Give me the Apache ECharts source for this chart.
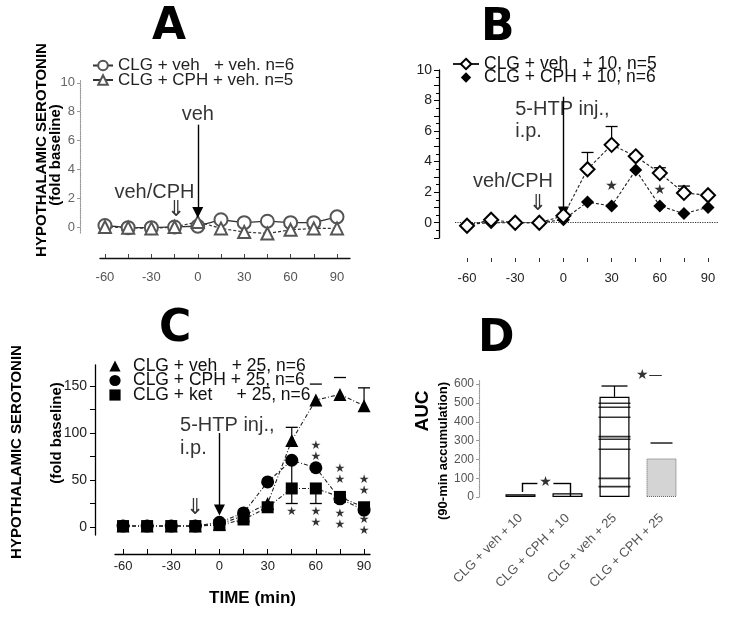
<!DOCTYPE html>
<html><head><meta charset="utf-8">
<script src="https://cdn.jsdelivr.net/npm/echarts@6/dist/echarts.min.js"></script>
<style>html,body{margin:0;padding:0;background:#fff}#c{width:729px;height:621px}</style>
</head><body><div id="c"></div>
<script>
// ---------- data ----------
const times = [-60,-45,-30,-15,0,15,30,45,60,75,90];
const tickTimes = [-60,-45,-30,-15,0,15,30,45,60,75,90];
const labelTimes = [-60,-30,0,30,60,90];

// Panel A
const aVehVeh = [0.1,-0.05,-0.05,0,0.05,0.5,0.3,0.4,0.3,0.3,0.7];
const aCphVeh = [0,-0.05,-0.1,0,0.35,-0.1,-0.35,-0.45,-0.2,-0.1,-0.1];
const aYLabels = [0,2,4,6,8,10];

// Panel B
const bVeh10 = [-0.2,0.2,0,0,0.45,3.5,5.1,4.35,3.25,1.95,1.8];
const bCph10 = [-0.1,0,0,0,0.2,1.35,1.1,3.45,1.1,0.6,1.0];
const bVeh10ErrTop = [null,null,null,null,null,4.6,6.3,null,3.6,2.4,null];

// Panel C
const cVeh25 = [1,1,1,1,3,12,25,92,135,141,129];
const cCph25 = [1,1,1,1,5,15,48,71,63,30,18];
const cKet25 = [1,1,1,1,2,8,21,41,41,32,21];
const cVeh25ErrTop = [null,null,null,null,null,null,null,106,null,null,148];
const cVeh25CapTop = [null,null,null,null,null,null,null,null,152,159,null];
const cCph25ErrLow = [null,null,null,null,null,null,null,41,null,null,null];
const cKet25ErrLow = [null,null,null,null,null,null,null,25,25,null,null];
const cYTicks = [0,25,50,75,100,125,150];
const cYLabels = [0,50,100,150];

// Panel D
const aucGroups = ['CLG + veh + 10','CLG + CPH + 10','CLG + veh + 25','CLG + CPH + 25'];
const aucPos = [1,2,3,4];
const aucMeans = [15,20,533,205];
const aucErrTop = [null,null,590,287];
const aucVeh25Individual = [498,477,424,321,307,254,99,55];
const dYLabels = [0,100,200,300,400,500,600];

// names
const nA1 = 'CLG + veh   + veh. n=6', nA2 = 'CLG + CPH + veh. n=5';
const nB1 = 'CLG + veh   + 10, n=5', nB2 = 'CLG + CPH + 10, n=6';
const nC1 = 'CLG + veh   + 25, n=6', nC2 = 'CLG + CPH + 25, n=6', nC3 = 'CLG + ket     + 25, n=6';

// ---------- helpers ----------
const FONT = '"Liberation Sans", Arial, sans-serif';
const pts = (xs, ys) => xs.map((x,i)=>[x, ys[i]]);
const errPts = (xs, mean, ext) => xs.map((x,i)=> ext[i]==null ? null : [x, mean[i], ext[i]]).filter(Boolean);

function errSeries(xi, data, capHalf, stem){
  return {type:'custom', xAxisIndex:xi, yAxisIndex:xi, data, clip:false, silent:true, z:3,
    renderItem(params, api){
      const x=api.value(0), a=api.value(1), b=api.value(2);
      const p0=api.coord([x,a]), p1=api.coord([x,b]);
      const ch=[];
      if(stem) ch.push({type:'line', shape:{x1:p0[0],y1:p0[1],x2:p1[0],y2:p1[1]}, style:{stroke:'#000', lineWidth:1.2}});
      ch.push({type:'line', shape:{x1:p1[0]-capHalf,y1:p1[1],x2:p1[0]+capHalf,y2:p1[1]}, style:{stroke:'#000', lineWidth:1.3}});
      return {type:'group', children:ch};
    }};
}
function txt(x, y, text, extra){ return {value:[x,y], label:Object.assign({formatter:text}, extra||{})}; }
function annSeries(xi, items, lines, arrows){
  return {type:'scatter', xAxisIndex:xi, yAxisIndex:xi, symbolSize:1, silent:true, clip:false, z:6,
    itemStyle:{color:'transparent'},
    label:{show:true, position:'inside', color:'#000', fontFamily:FONT, fontSize:20},
    data:items,
    markLine:{silent:true, animation:false, symbol:arrows?['none','triangle']:['none','none'], symbolSize:11,
      label:{show:false}, lineStyle:{color:'#000', type:'solid', width:1.4},
      emphasis:{disabled:true},
      data:lines}
  };
}
function baseLine(xi, x0, x1){
  return {type:'line', xAxisIndex:xi, yAxisIndex:xi, data:[], clip:false, silent:true,
    markLine:{silent:true, animation:false, symbol:['none','none'], label:{show:false},
      lineStyle:{color:'#333', type:'dotted', width:1.2}, emphasis:{disabled:true},
      data:[[{coord:[x0,0]},{coord:[x1,0]}]]}};
}
const seg = (x0,y0,x1,y1)=>[{coord:[x0,y0]},{coord:[x1,y1]}];
const star = '★', star2 = '★\n★';
const starLbl = {fontSize:12, lineHeight:11, fontFamily:'"DejaVu Sans", sans-serif'};
const starB = {fontSize:14, fontFamily:'"DejaVu Sans", sans-serif'};
const dblArrow = {fontSize:22, fontFamily:'"DejaVu Sans", sans-serif'};

// ---------- option ----------
const titleStyle = {fontSize:44, fontWeight:'bold', fontFamily:'"DejaVu Sans", sans-serif', color:'#000'};
const option = {
  animation:false,
  backgroundColor:'#fff',
  textStyle:{fontFamily:FONT},
  title:[
    {text:'A', left:152, top:6, padding:0, textStyle:titleStyle},
    {text:'B', left:481, top:7, padding:0, textStyle:titleStyle},
    {text:'C', left:159, top:308, padding:0, textStyle:titleStyle},
    {text:'D', left:478, top:318, padding:0, textStyle:titleStyle}
  ],
  legend:[
    {left:92, top:57, padding:0, orient:'vertical', itemWidth:20, itemHeight:12, itemGap:-2.5,
     textStyle:{fontSize:17, color:'#222', fontFamily:FONT},
     data:[{name:nA1, lineStyle:{type:'solid'}},{name:nA2, lineStyle:{type:'solid'}}]},
    {left:452, top:55, padding:0, orient:'vertical', itemWidth:26, itemHeight:13, itemGap:-4.5,
     textStyle:{fontSize:17.5, color:'#111', fontFamily:FONT},
     data:[{name:nB1, lineStyle:{type:'solid'}},{name:nB2, lineStyle:{opacity:0}}]},
    {left:101, top:357, padding:0, orient:'vertical', itemWidth:26, itemHeight:14, itemGap:-3.5,
     textStyle:{fontSize:17.5, color:'#111', fontFamily:FONT},
     data:[{name:nC1, lineStyle:{opacity:0}},{name:nC2, lineStyle:{opacity:0}},{name:nC3, lineStyle:{opacity:0}}]}
  ],
  grid:[
    {left:100, right:379, top:80, bottom:388},
    {left:455, right:11, top:70, bottom:383},
    {left:115, right:359, top:365, bottom:86},
    {left:497, right:44, top:380, bottom:124}
  ],
  xAxis:[
    {type:'value', gridIndex:0, min:-63.2, max:98.4, offset:25,
     axisLine:{onZero:false, lineStyle:{color:'#111', width:1.3}},
     axisTick:{inside:true, length:4, customValues:tickTimes, lineStyle:{color:'#444'}},
     axisLabel:{customValues:labelTimes, color:'#555', fontSize:13, margin:13},
     splitLine:{show:false}},
    {type:'value', gridIndex:1, min:-67.47, max:96.2, offset:20,
     axisLine:{show:false, onZero:false},
     axisTick:{length:4, customValues:tickTimes, lineStyle:{color:'#333'}},
     axisLabel:{customValues:labelTimes, color:'#222', fontSize:13, margin:14},
     splitLine:{show:false}},
    {type:'value', gridIndex:2, min:-65, max:93.7, offset:19,
     axisLine:{onZero:false, lineStyle:{color:'#000', width:1.3}},
     axisTick:{inside:true, length:5, customValues:tickTimes, lineStyle:{color:'#000'}},
     axisLabel:{customValues:labelTimes, color:'#222', fontSize:13, margin:6},
     name:'TIME (min)', nameLocation:'middle', nameGap:36,
     nameTextStyle:{fontSize:17, fontWeight:'bold', color:'#000', fontFamily:FONT, padding:[0,0,0,20]},
     splitLine:{show:false}},
    {type:'value', gridIndex:3, min:0.5, max:4.5,
     axisLine:{show:false, onZero:false}, axisTick:{show:false},
     axisLabel:{customValues:aucPos, formatter:v=>aucGroups[Math.round(v)-1], rotate:45,
       color:'#555', fontSize:13, margin:19},
     splitLine:{show:false}}
  ],
  yAxis:[
    {type:'value', gridIndex:0, min:-0.42, max:10.2, offset:20,
     axisLine:{show:true, onZero:false, lineStyle:{type:'dotted', color:'#999', width:1.2}},
     axisTick:{show:true, customValues:aYLabels, length:3, lineStyle:{color:'#999'}},
     axisLabel:{customValues:aYLabels, color:'#666', fontSize:13, margin:5},
     splitLine:{show:false}},
    {type:'value', gridIndex:1, min:-1, max:10, interval:1, offset:16,
     axisLine:{show:true, onZero:false, lineStyle:{color:'#000', width:1.3}},
     axisTick:{show:true, length:5, lineStyle:{color:'#000'}},
     minorTick:{show:true, splitNumber:2, length:3, lineStyle:{color:'#000'}},
     axisLabel:{formatter:v=>(v>=0 && v%2===0)?String(v):'', color:'#222', fontSize:14, margin:7},
     splitLine:{show:false}},
    {type:'value', gridIndex:2, min:-8.5, max:172.3, offset:20,
     axisLine:{show:true, onZero:false, lineStyle:{color:'#000', width:1.3}},
     axisTick:{show:true, customValues:cYTicks, length:5, lineStyle:{color:'#000'}},
     axisLabel:{customValues:cYLabels, color:'#222', fontSize:14, margin:8},
     splitLine:{show:false}},
    {type:'value', gridIndex:3, min:0, max:622, offset:18,
     axisLine:{show:true, onZero:false, lineStyle:{type:'dotted', color:'#999', width:1.2}},
     axisTick:{show:true, customValues:dYLabels, length:3, lineStyle:{color:'#999'}},
     axisLabel:{customValues:dYLabels, color:'#555', fontSize:12, margin:5},
     splitLine:{show:false}}
  ],
  graphic:[
    {type:'text', x:42, y:150, rotation:Math.PI/2, style:{text:'HYPOTHALAMIC SEROTONIN', font:'bold 15px "Liberation Sans"', fill:'#000', align:'center', verticalAlign:'middle'}},
    {type:'text', x:56, y:155, rotation:Math.PI/2, style:{text:'(fold baseline)', font:'bold 15px "Liberation Sans"', fill:'#000', align:'center', verticalAlign:'middle'}},
    {type:'text', x:17, y:452, rotation:Math.PI/2, style:{text:'HYPOTHALAMIC SEROTONIN', font:'bold 15px "Liberation Sans"', fill:'#000', align:'center', verticalAlign:'middle'}},
    {type:'text', x:57, y:433, rotation:Math.PI/2, style:{text:'(fold baseline)', font:'bold 15px "Liberation Sans"', fill:'#000', align:'center', verticalAlign:'middle'}},
    {type:'text', x:423, y:411, rotation:Math.PI/2, style:{text:'AUC', font:'bold 19px "Liberation Sans"', fill:'#000', align:'center', verticalAlign:'middle'}},
    {type:'text', x:443, y:451, rotation:Math.PI/2, style:{text:'(90-min accumulation)', font:'bold 13px "Liberation Sans"', fill:'#000', align:'center', verticalAlign:'middle'}}
  ],
  series:[
    // ---- A ----
    baseLine(0, -77, 94.8),
    {name:nA1, type:'line', xAxisIndex:0, yAxisIndex:0, data:pts(times,aVehVeh), clip:false,
     symbol:'emptyCircle', symbolSize:13, lineStyle:{color:'#333', width:1.3},
     itemStyle:{color:'#555', borderWidth:1.1}, z:4},
    {name:nA2, type:'line', xAxisIndex:0, yAxisIndex:0, data:pts(times,aCphVeh), clip:false,
     symbol:'emptyTriangle', symbolSize:12, lineStyle:{color:'#333', width:1.2, type:[3,2]},
     itemStyle:{color:'#555', borderWidth:1.1}, z:4},
    annSeries(0, [
      txt(0, 7.8, 'veh'),
      txt(-28, 2.4, 'veh/CPH'),
      txt(-14, 1.15, '⇓', dblArrow)
    ], [seg(0,7.1,0,1.0)], true),
    // ---- B ----
    baseLine(1, -67.47, 96.2),
    errSeries(1, errPts(times,bVeh10,bVeh10ErrTop), 6, true),
    {name:nB1, type:'line', xAxisIndex:1, yAxisIndex:1, data:pts(times,bVeh10), clip:false,
     symbol:'emptyDiamond', symbolSize:14, lineStyle:{color:'#222', width:1.1, type:[3,2]},
     itemStyle:{color:'#000', borderWidth:1.1}, z:5},
    {name:nB2, type:'line', xAxisIndex:1, yAxisIndex:1, data:pts(times,bCph10), clip:false,
     symbol:'diamond', symbolSize:13, lineStyle:{color:'#222', width:1.1, type:[3,2]},
     itemStyle:{color:'#000'}, z:4},
    annSeries(1, [
      txt(-30, 7.4, '5-HTP inj.,', {align:'left'}),
      txt(-30, 6.0, 'i.p.', {align:'left'}),
      txt(-31.4, 2.7, 'veh/CPH'),
      txt(-15.8, 1.2, '⇓', dblArrow),
      txt(30, 2.4, star, starB),
      txt(60, 2.1, star, starB)
    ], [seg(0,8.25,0,0.7)], true),
    // ---- C ----
    baseLine(2, -71, 94),
    errSeries(2, errPts(times,cVeh25,cVeh25ErrTop), 6, true),
    errSeries(2, errPts(times,cVeh25,cVeh25CapTop), 6, false),
    errSeries(2, errPts(times,cCph25,cCph25ErrLow), 0, true),
    errSeries(2, errPts(times,cKet25,cKet25ErrLow), 6, true),
    {name:nC1, type:'line', xAxisIndex:2, yAxisIndex:2, data:pts(times,cVeh25), clip:false,
     symbol:'triangle', symbolSize:13, lineStyle:{color:'#222', width:1.1, type:[4,2,1,2]},
     itemStyle:{color:'#000'}, z:4},
    {name:nC2, type:'line', xAxisIndex:2, yAxisIndex:2, data:pts(times,cCph25), clip:false,
     symbol:'circle', symbolSize:13, lineStyle:{color:'#222', width:1.1, type:[4,2,1,2]},
     itemStyle:{color:'#000'}, z:4},
    {name:nC3, type:'line', xAxisIndex:2, yAxisIndex:2, data:pts(times,cKet25), clip:false,
     symbol:'rect', symbolSize:12, lineStyle:{color:'#222', width:1.1, type:[4,2,1,2]},
     itemStyle:{color:'#000'}, z:4},
    annSeries(2, [
      txt(-24.5, 108.5, '5-HTP inj.,', {align:'left'}),
      txt(-24.5, 84, 'i.p.', {align:'left'}),
      txt(-15, 20, '⇓', dblArrow),
      txt(45, 16, star, starLbl),
      txt(60, 80, star2, starLbl), txt(60, 10, star2, starLbl),
      txt(75, 56, star2, starLbl), txt(75, 8.5, star2, starLbl),
      txt(90, 44, star2, starLbl), txt(90, 2, star2, starLbl)
    ], [seg(0,100,0,18)], true),
    // ---- D ----
    {type:'bar', xAxisIndex:3, yAxisIndex:3, barWidth:30, silent:true,
     data:aucPos.map((p,i)=>({value:[p, aucMeans[i]],
        itemStyle: i===3 ? {color:'#d4d4d4', borderColor:'#666', borderWidth:1, borderType:'dotted'}
                         : {color:'#fff', borderColor:'#000', borderWidth:1.2}})), z:2},
    {type:'scatter', xAxisIndex:3, yAxisIndex:3, symbol:'rect', symbolSize:[32,1.6], silent:true,
     itemStyle:{color:'#000'}, data:aucVeh25Individual.map(v=>[3, v]), z:3},
    errSeries(3, errPts([1,2,3], aucMeans, [null,null,aucErrTop[2]]), 13, true),
    errSeries(3, errPts([4], [aucMeans[3]], [aucErrTop[3]]), 11, false),
    annSeries(3, [
      txt(1.53, 80, star, starB),
      txt(3.74, 649, '★—', {fontSize:14, fontFamily:'"DejaVu Sans", sans-serif'})
    ], [seg(1.03,27,1.03,75), seg(1.03,75,1.36,75), seg(1.7,75,2.06,75), seg(2.06,75,2.06,0)], false)
  ]
};
const chart = echarts.init(document.getElementById('c'), null, {renderer:'canvas'});
chart.setOption(option);
</script></body></html>
